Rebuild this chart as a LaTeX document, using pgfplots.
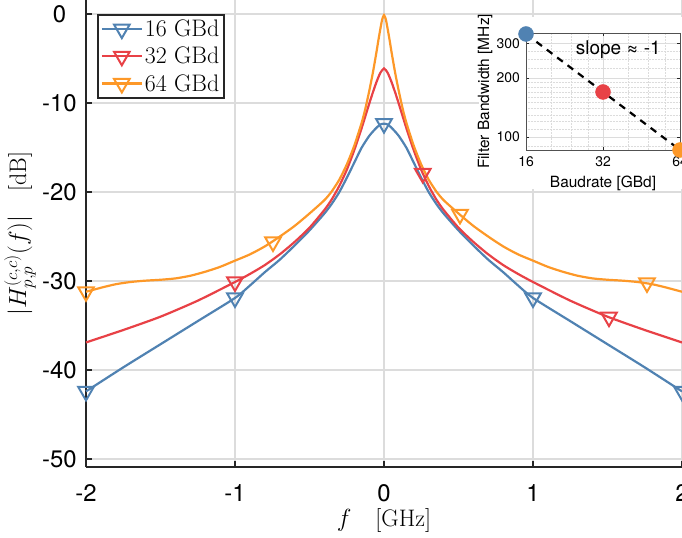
\documentclass[border=0pt]{standalone}
\usepackage{fontspec}
\usepackage{pgfplots}
\pgfplotsset{compat=1.18}
\newfontfamily\helv{TeX Gyre Heros}
\definecolor{cblue}{RGB}{80,130,178}
\definecolor{cred}{RGB}{232,65,70}
\definecolor{corange}{RGB}{253,152,40}
\definecolor{cgrid}{RGB}{220,220,220}
\definecolor{caxis}{RGB}{38,38,38}
\begin{document}
\begin{tikzpicture}
\begin{axis}[
  scale only axis, width=596bp, height=467bp,
  xmin=-2, xmax=2, ymin=-50.9, ymax=1.6,
  axis x line*=bottom, axis y line*=left,
  axis line style={line width=2.2bp, draw=caxis, -},
  xtick={-2,-1,0,1,2}, xticklabels={-2,-1,0,1,2},
  ytick={-50,-40,-30,-20,-10,0}, yticklabels={-50,-40,-30,-20,-10,0},
  tick align=inside, major tick length=6bp,
  tick style={line width=2bp, draw=caxis},
  grid=major, major grid style={line width=2bp, draw=cgrid},
  ticklabel style={font=\helv\fontsize{24}{27}\selectfont, inner sep=0pt},
  xticklabel style={anchor=center, yshift=-26bp},
  yticklabel style={anchor=center, xshift=-26.5bp},
  xlabel={$f$\quad [GHz]}, ylabel={$|H^{(c,c)}_{p,p}(f)|$\quad [dB]},
  label style={font=\fontsize{24}{28}\selectfont},
  xlabel style={at={(rel axis cs:0.5,0)}, anchor=center, yshift=-54bp},
  ylabel style={at={(rel axis cs:0,0.5)}, anchor=center, yshift=66bp},
  clip=false,
  legend style={at={(rel axis cs:0.018,0.97)}, anchor=north west, draw=caxis, line width=2bp,
    font=\fontsize{24}{28}\selectfont, fill=white, inner sep=3bp, row sep=5bp},
  legend cell align=left,
  legend image code/.code={\draw[#1, mark repeat=2, mark phase=2] plot coordinates {(0bp,0bp) (20bp,0bp) (40bp,0bp)};},
]
\coordinate (bl) at (rel axis cs:0,0);
\coordinate (tr) at (rel axis cs:1,1);
\coordinate (insetpos) at (rel axis cs:0.7383,0.6788);
\fill[white] (axis cs:0.64,-19.6) rectangle (axis cs:2.05,-0.35);
\addlegendimage{cblue, line width=2.2bp, mark=triangle, mark size=9bp, mark options={rotate=180, line width=2bp}}
\addlegendentry{16 GBd}
\addlegendimage{cred, line width=2.2bp, mark=triangle, mark size=9bp, mark options={rotate=180, line width=2bp}}
\addlegendentry{32 GBd}
\addlegendimage{corange, line width=2.2bp, mark=triangle, mark size=9bp, mark options={rotate=180, line width=2bp}}
\addlegendentry{64 GBd}
% 16 GBd
\addplot[cblue, line width=2.2bp, smooth, tension=0.4, forget plot] coordinates {
(-2,-42.4) (-1.75,-39.7) (-1.5,-37.1) (-1.25,-34.5) (-1,-31.9) (-0.9,-30.5) (-0.8,-29.0) (-0.7,-27.6) (-0.6,-26.0) (-0.5,-24.3) (-0.4,-22.4) (-0.35,-21.3) (-0.3,-20.0) (-0.25,-18.4) (-0.2,-16.7) (-0.15,-15.0) (-0.1,-13.7) (-0.075,-13.2) (-0.05,-12.75) (-0.025,-12.4) (0,-12.3)
(0.025,-12.4) (0.05,-12.75) (0.075,-13.2) (0.1,-13.7) (0.15,-15.0) (0.2,-16.7) (0.25,-18.4) (0.3,-20.0) (0.35,-21.3) (0.4,-22.4) (0.5,-24.3) (0.6,-26.0) (0.7,-27.6) (0.8,-29.0) (0.9,-30.5) (1,-31.9) (1.25,-34.5) (1.5,-37.1) (1.75,-39.7) (2,-42.4)};
% 32 GBd
\addplot[cred, line width=2.2bp, smooth, tension=0.4, forget plot] coordinates {
(-2,-36.9) (-1.75,-35.5) (-1.5,-34.0) (-1.25,-32.2) (-1,-30.1) (-0.9,-29.2) (-0.8,-28.2) (-0.7,-27.0) (-0.6,-25.6) (-0.5,-24.0) (-0.4,-22.0) (-0.35,-20.8) (-0.3,-19.3) (-0.25,-17.5) (-0.2,-15.3) (-0.15,-12.8) (-0.1,-10.1) (-0.075,-8.8) (-0.05,-7.6) (-0.025,-6.6) (0,-6.1)
(0.025,-6.6) (0.05,-7.6) (0.075,-8.8) (0.1,-10.1) (0.15,-12.8) (0.2,-15.3) (0.25,-17.5) (0.3,-19.3) (0.35,-20.8) (0.4,-22.0) (0.5,-24.0) (0.6,-25.6) (0.7,-27.0) (0.8,-28.2) (0.9,-29.2) (1,-30.1) (1.25,-32.2) (1.5,-34.0) (1.75,-35.5) (2,-36.9)};
% 64 GBd
\addplot[corange, line width=2.2bp, smooth, tension=0.4, forget plot] coordinates {
(-2,-31.2) (-1.9,-30.75) (-1.8,-30.35) (-1.7,-30.1) (-1.6,-29.95) (-1.5,-29.85) (-1.4,-29.7) (-1.3,-29.4) (-1.2,-28.95) (-1.1,-28.4) (-1,-27.7) (-0.9,-27.0) (-0.8,-26.1) (-0.7,-25.0) (-0.6,-23.8) (-0.5,-22.4) (-0.4,-20.9) (-0.35,-19.9) (-0.3,-18.6) (-0.25,-16.9) (-0.2,-14.8) (-0.15,-12.2) (-0.125,-10.6) (-0.1,-8.7) (-0.075,-6.6) (-0.05,-4.2) (-0.0375,-2.9) (-0.025,-1.7) (-0.0125,-0.6) (0,-0.1)
(0.0125,-0.6) (0.025,-1.7) (0.0375,-2.9) (0.05,-4.2) (0.075,-6.6) (0.1,-8.7) (0.125,-10.6) (0.15,-12.2) (0.2,-14.8) (0.25,-16.9) (0.3,-18.6) (0.35,-19.9) (0.4,-20.9) (0.5,-22.4) (0.6,-23.8) (0.7,-25.0) (0.8,-26.1) (0.9,-27.0) (1,-27.7) (1.1,-28.4) (1.2,-28.95) (1.3,-29.4) (1.4,-29.7) (1.5,-29.85) (1.6,-29.95) (1.7,-30.1) (1.8,-30.35) (1.9,-30.75) (2,-31.2)};
% markers
\addplot[cblue, only marks, mark=triangle, mark size=9bp, mark options={rotate=180, line width=2bp}, forget plot] coordinates {(-2,-42.4) (-1,-31.9) (0,-12.3) (1,-31.9) (2,-42.4)};
\addplot[cred, only marks, mark=triangle, mark size=9bp, mark options={rotate=180, line width=2bp}, forget plot] coordinates {(-1,-30.1) (0.26,-17.9) (1.51,-34.05)};
\addplot[corange, only marks, mark=triangle, mark size=9bp, mark options={rotate=180, line width=2bp}, forget plot] coordinates {(-2,-31.2) (-0.745,-25.6) (0.51,-22.5) (1.765,-30.2)};
\end{axis}
\begin{axis}[
  at={(insetpos)}, anchor=south west,
  scale only axis, width=154bp, height=117bp,
  xmode=log, ymode=log,
  xmin=16, xmax=64, ymin=86, ymax=340,
  xtick={16,32,64}, xticklabels={16,32,64},
  ytick={100,200,300}, yticklabels={100,200,300},
  minor xtick={20,24,28,40,48,56},
  minor ytick={90,110,120,130,140,150,160,170,180,190,225,250,275},
  grid=both,
  major grid style={line width=0.7bp, draw=cgrid},
  minor grid style={line width=0.5bp, draw=cgrid, densely dotted},
  axis line style={line width=0.8bp, draw=caxis!80},
  tick align=inside, major tick length=3bp, minor tick length=0bp,
  tick style={line width=0.6bp, draw=caxis},
  axis background/.style={fill=white},
  ticklabel style={font=\helv\fontsize{14}{16}\selectfont, inner sep=0pt},
  xticklabel style={anchor=center, yshift=-12bp},
  yticklabel style={anchor=east, xshift=-6bp},
  xlabel={Baudrate [GBd]}, ylabel={Filter Bandwidth [MHz]},
  label style={font=\helv\fontsize{15.5}{18}\selectfont},
  xlabel style={at={(rel axis cs:0.5,0)}, anchor=center, yshift=-33bp},
  ylabel style={at={(rel axis cs:0,0.5)}, anchor=center, yshift=41bp},
  clip=false,
]
\addplot[black, line width=2.2bp, dash pattern=on 7bp off 6bp] coordinates {(16,336) (32,170) (64,86)};
\addplot[only marks, mark=*, mark size=7.5bp, draw=cblue, fill=cblue] coordinates {(16,336)};
\addplot[only marks, mark=*, mark size=7.5bp, draw=cred, fill=cred] coordinates {(32,170)};
\addplot[only marks, mark=*, mark size=7.5bp, draw=corange, fill=corange] coordinates {(64,86)};
\node[font=\helv\fontsize{19}{22}\selectfont] at (axis cs:36.7,278) {slope ≈ -1};
\end{axis}
\pgfresetboundingbox
\path[use as bounding box] ([xshift=-86bp,yshift=-70bp]bl) rectangle (tr);
\end{tikzpicture}
\end{document}
